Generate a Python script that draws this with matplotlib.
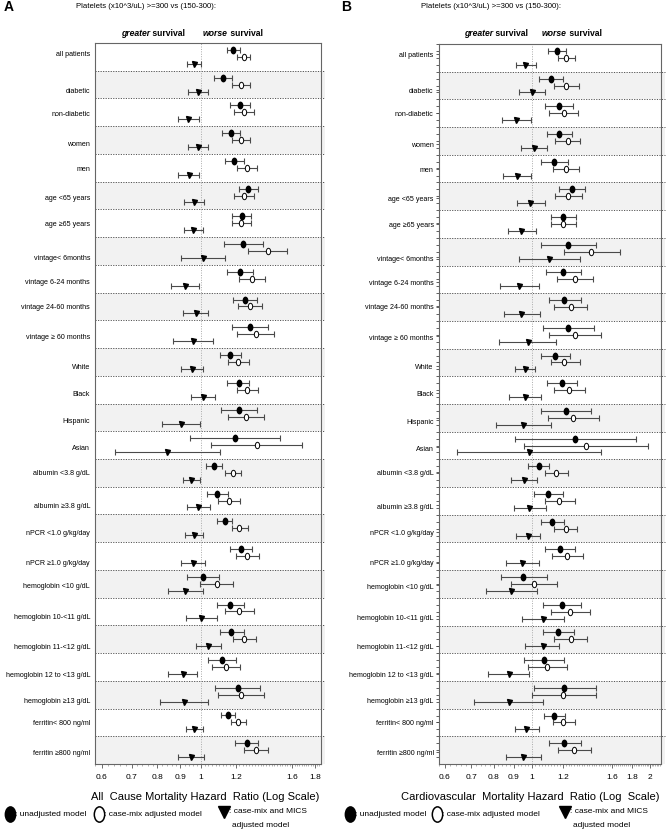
import numpy as np
import matplotlib
matplotlib.use('Agg')
import matplotlib.pyplot as plt
from matplotlib.path import Path
from matplotlib.lines import Line2D
from matplotlib.patches import Rectangle
from matplotlib.ticker import FixedLocator, NullFormatter

plt.rcParams['font.family'] = ['Liberation Sans', 'DejaVu Sans']

subgroups = ["all patients", "diabetic", "non-diabetic", "women", "men",
             "age <65 years", "age \u226565 years", "vintage< 6months",
             "vintage 6-24 months", "vintage 24-60 months", "vintage \u2265 60 months",
             "White", "Black", "Hispanic", "Asian", "albumin <3.8 g/dL",
             "albumin \u22653.8 g/dL", "nPCR <1.0 g/kg/day", "nPCR \u22651.0 g/kg/day",
             "hemoglobin <10 g/dL", "hemoglobin 10-<11 g/dL", "hemoglobin 11-<12 g/dL",
             "hemoglobin 12 to <13 g/dL", "hemoglobin \u226513 g/dL",
             "ferritin< 800 ng/ml", "ferritin \u2265800 ng/ml"]

# ---- Panel A: all-cause mortality ----
a_unadj    = [1.181, 1.122, 1.222, 1.169, 1.189, 1.276, 1.233, 1.244, 1.222, 1.252, 1.287, 1.163, 1.214,
              1.216, 1.193, 1.069, 1.086, 1.130, 1.227, 1.009, 1.163, 1.169, 1.114, 1.208, 1.151, 1.265]
a_unadj_lo = [1.145, 1.071, 1.163, 1.116, 1.133, 1.218, 1.175, 1.128, 1.145, 1.177, 1.175, 1.105, 1.147,
              1.110, 0.947, 1.026, 1.030, 1.086, 1.159, 0.929, 1.084, 1.101, 1.040, 1.075, 1.107, 1.193]
a_unadj_hi = [1.222, 1.175, 1.285, 1.224, 1.250, 1.339, 1.296, 1.374, 1.309, 1.332, 1.412, 1.229, 1.283,
              1.337, 1.502, 1.116, 1.151, 1.175, 1.303, 1.099, 1.250, 1.246, 1.200, 1.357, 1.195, 1.343]
a_cm       = [1.246, 1.229, 1.246, 1.227, 1.267, 1.248, 1.231, 1.410, 1.303, 1.285, 1.325, 1.212, 1.270,
              1.263, 1.334, 1.177, 1.157, 1.220, 1.270, 1.088, 1.220, 1.250, 1.137, 1.231, 1.212, 1.325]
a_cm_lo    = [1.206, 1.175, 1.187, 1.171, 1.206, 1.187, 1.171, 1.276, 1.218, 1.208, 1.206, 1.149, 1.202,
              1.151, 1.055, 1.130, 1.095, 1.173, 1.200, 0.998, 1.135, 1.177, 1.058, 1.093, 1.165, 1.250]
a_cm_hi    = [1.291, 1.291, 1.312, 1.291, 1.332, 1.312, 1.296, 1.560, 1.393, 1.371, 1.454, 1.280, 1.343,
              1.386, 1.685, 1.227, 1.222, 1.274, 1.348, 1.183, 1.314, 1.330, 1.222, 1.386, 1.263, 1.412]
a_mics     = [0.963, 0.986, 0.937, 0.986, 0.940, 0.965, 0.961, 1.010, 0.922, 0.975, 0.960, 0.956, 1.012,
              0.902, 0.841, 0.953, 0.985, 0.966, 0.961, 0.924, 1.002, 1.037, 0.910, 0.916, 0.966, 0.950]
a_mics_lo  = [0.929, 0.938, 0.887, 0.938, 0.891, 0.916, 0.915, 0.904, 0.857, 0.913, 0.866, 0.905, 0.953,
              0.817, 0.642, 0.911, 0.929, 0.924, 0.905, 0.845, 0.926, 0.973, 0.844, 0.811, 0.927, 0.891]
a_mics_hi  = [1.000, 1.037, 0.990, 1.040, 0.993, 1.019, 1.012, 1.132, 0.991, 1.040, 1.064, 1.012, 1.078,
              0.998, 1.101, 0.998, 1.046, 1.010, 1.024, 1.012, 1.088, 1.107, 0.981, 1.040, 1.010, 1.016]

# ---- Panel B: cardiovascular mortality ----
b_unadj    = [1.158, 1.118, 1.170, 1.176, 1.138, 1.262, 1.200, 1.238, 1.200, 1.211, 1.238, 1.147, 1.193,
              1.223, 1.287, 1.040, 1.101, 1.127, 1.179, 0.952, 1.190, 1.165, 1.071, 1.211, 1.140, 1.211]
b_unadj_lo = [1.099, 1.042, 1.079, 1.096, 1.052, 1.172, 1.116, 1.052, 1.084, 1.103, 1.067, 1.058, 1.090,
              1.056, 0.907, 0.977, 1.010, 1.056, 1.077, 0.834, 1.065, 1.065, 0.956, 1.010, 1.073, 1.103]
b_unadj_hi = [1.221, 1.202, 1.270, 1.265, 1.233, 1.362, 1.292, 1.453, 1.333, 1.333, 1.436, 1.250, 1.302,
              1.417, 1.838, 1.109, 1.202, 1.204, 1.290, 1.090, 1.333, 1.277, 1.204, 1.459, 1.214, 1.333]
b_cm       = [1.223, 1.223, 1.204, 1.233, 1.219, 1.238, 1.200, 1.417, 1.285, 1.255, 1.287, 1.211, 1.245,
              1.275, 1.373, 1.151, 1.176, 1.219, 1.231, 1.012, 1.250, 1.257, 1.092, 1.202, 1.202, 1.282]
b_cm_lo    = [1.165, 1.140, 1.109, 1.147, 1.129, 1.147, 1.116, 1.204, 1.156, 1.140, 1.109, 1.116, 1.136,
              1.099, 0.956, 1.077, 1.077, 1.142, 1.125, 0.884, 1.116, 1.142, 0.975, 1.000, 1.129, 1.165]
b_cm_hi    = [1.290, 1.315, 1.308, 1.328, 1.318, 1.339, 1.292, 1.673, 1.431, 1.381, 1.497, 1.323, 1.362,
              1.479, 1.980, 1.233, 1.285, 1.302, 1.352, 1.160, 1.403, 1.384, 1.226, 1.453, 1.285, 1.411]
b_mics     = [0.963, 1.002, 0.912, 1.010, 0.916, 0.992, 0.941, 1.109, 0.928, 0.941, 0.975, 0.958, 0.962,
              0.950, 0.984, 0.956, 0.986, 0.979, 0.943, 0.886, 1.069, 1.065, 0.872, 0.872, 0.969, 0.950]
b_mics_lo  = [0.909, 0.927, 0.837, 0.936, 0.842, 0.914, 0.870, 0.925, 0.829, 0.850, 0.827, 0.905, 0.877,
              0.809, 0.646, 0.887, 0.900, 0.910, 0.857, 0.766, 0.943, 0.963, 0.771, 0.713, 0.905, 0.857]
b_mics_hi  = [1.024, 1.081, 0.994, 1.092, 0.994, 1.077, 1.022, 1.326, 1.042, 1.046, 1.149, 1.016, 1.052,
              1.116, 1.500, 1.028, 1.084, 1.050, 1.040, 1.028, 1.211, 1.176, 0.986, 1.065, 1.040, 1.058]

a_ticks = [0.6, 0.7, 0.8, 0.9, 1.0, 1.2, 1.6, 1.8]
a_ticklabels = ["0.6", "0.7", "0.8", "0.9", "1", "1.2", "1.6", "1.8"]
b_ticks = [0.6, 0.7, 0.8, 0.9, 1.0, 1.2, 1.6, 1.8, 2.0]
b_ticklabels = ["0.6", "0.7", "0.8", "0.9", "1", "1.2", "1.6", "1.8", "2"]

title_text = "Platelets (x10^3/uL) >=300 vs (150-300):"

# ---------------- layout helpers ----------------
label_frac = [0.36, 0.66, 0.49, 0.60, 0.48, 0.55, 0.48, 0.70, 0.58, 0.45, 0.55, 0.62, 0.59,
              0.58, 0.56, 0.45, 0.65, 0.61, 0.70, 0.54, 0.66, 0.73, 0.73, 0.67, 0.47, 0.56]

_circ = Path.unit_circle()
ellipse = Path(_circ.vertices * np.array([0.68, 1.0]), _circ.codes)

W, H = 669, 837
fig = plt.figure(figsize=(W / 100, H / 100), dpi=100)
renderer = fig.canvas.get_renderer()


def px_rect(l, t, r, b):
    return [l / W, 1 - b / H, (r - l) / W, (b - t) / H]


def fx(x):
    return x / W


def fy(y):
    return 1 - y / H


def draw_panel(ax, unadj, ulo, uhi, cm, clo, chi, mics, mlo, mhi, xlim, ticks, ticklabels,
               overhang, yticks_marks):
    n = len(subgroups)
    idx = np.arange(n)
    ax.set_xscale('log')
    ax.set_xlim(*xlim)
    ax.set_ylim(n, 0)
    for i in range(n):
        if i % 2 == 1:
            ax.add_patch(Rectangle((0, i), 1 + overhang, 1, transform=ax.get_yaxis_transform(),
                                   facecolor='#f2f2f2', edgecolor='none', zorder=0, clip_on=False))
    for i in range(1, n):
        ax.plot([0, 1 + overhang], [i, i], transform=ax.get_yaxis_transform(), color='#555555',
                lw=0.7, ls=(0, (1.2, 1.4)), clip_on=False, zorder=1)
    ax.axvline(1.0, color='#aaaaaa', lw=0.7, ls=(0, (1, 1.5)), zorder=1)

    series = [(unadj, ulo, uhi, 0.25, dict(marker=ellipse, mfc='black', mec='black', ms=4.6)),
              (cm, clo, chi, 0.5, dict(marker=ellipse, mfc='white', mec='black', ms=4.6, mew=0.7)),
              (mics, mlo, mhi, 0.75, dict(marker='v', mfc='black', mec='black', ms=3.6))]
    for vals, lo, hi, off, mk in series:
        vals = np.asarray(vals); lo = np.asarray(lo); hi = np.asarray(hi)
        y = idx + off
        ax.errorbar(vals, y, xerr=[vals - lo, hi - vals], fmt='none', ecolor='#4a4a4a',
                    elinewidth=0.8, capsize=2.2, capthick=0.8, zorder=3)
        ax.plot(vals, y, ls='none', zorder=4, **mk)

    ax.set_yticks(idx + np.array(label_frac))
    ax.set_yticklabels(subgroups, fontsize=5.1)
    if yticks_marks:
        ax.yaxis.set_minor_locator(FixedLocator(np.arange(0, n, 0.25)))
        ax.tick_params(axis='y', which='both', length=2.2, width=0.6, color='#444444', pad=1.6)
    else:
        ax.tick_params(axis='y', which='both', length=0, pad=3.6)
    ax.xaxis.set_major_locator(FixedLocator(ticks))
    ax.set_xticklabels(ticklabels, fontsize=6)
    minor = np.round(np.arange(0.58, xlim[1], 0.02), 2)
    ax.xaxis.set_minor_locator(FixedLocator(minor))
    ax.xaxis.set_minor_formatter(NullFormatter())
    ax.tick_params(axis='x', which='major', length=3, width=0.6, color='#555555', pad=3.5)
    ax.tick_params(axis='x', which='minor', length=1.3, width=0.4, color='#777777')
    for s in ax.spines.values():
        s.set_color('#666666')
        s.set_linewidth(0.8)


axA = fig.add_axes(px_rect(95, 44, 321, 765))
draw_panel(axA, a_unadj, a_unadj_lo, a_unadj_hi, a_cm, a_cm_lo, a_cm_hi, a_mics, a_mics_lo, a_mics_hi,
           (0.58, 1.856), a_ticks, a_ticklabels, 0.018, False)
axB = fig.add_axes(px_rect(439, 45, 661, 765))
draw_panel(axB, b_unadj, b_unadj_lo, b_unadj_hi, b_cm, b_cm_lo, b_cm_hi, b_mics, b_mics_lo, b_mics_hi,
           (0.58, 2.133), b_ticks, b_ticklabels, 0.02, True)

# panel letters and titles
fig.text(fx(4), fy(7), "A", fontsize=10, fontweight='bold', va='center', ha='left')
fig.text(fx(76), fy(6), title_text, fontsize=5.6, va='center', ha='left')
fig.text(fx(341), fy(7), "B", fontsize=10, fontweight='bold', va='center', ha='left')
fig.text(fx(421), fy(6), title_text, fontsize=5.6, va='center', ha='left')


def two_style(x_px, y_px, word):
    t1 = fig.text(fx(x_px), fy(y_px), word, fontsize=6.2, fontweight='bold', style='italic',
                  ha='left', va='center')
    w = t1.get_window_extent(renderer=renderer).width
    fig.text(fx(x_px + w), fy(y_px), " survival", fontsize=6.2, fontweight='bold',
             ha='left', va='center')


two_style(121, 33, "greater")
two_style(203, 33, "worse")
two_style(464, 33, "greater")
two_style(542, 33, "worse")

# x axis titles
fig.text(fx(205), fy(797), "All  Cause Mortality Hazard  Ratio (Log Scale)", fontsize=8,
         ha='center', va='center')
fig.text(fx(530), fy(797), "Cardiovascular  Mortality Hazard  Ratio (Log  Scale)", fontsize=8,
         ha='center', va='center')


def legend_row(x_f, x_o, x_t):
    yl = fy(815)
    fig.add_artist(Line2D([fx(x_f)], [yl], marker=ellipse, ms=11, mfc='black', mec='black',
                          ls='none', transform=fig.transFigure))
    fig.text(fx(x_f + 5), yl, ": unadjusted model", fontsize=6, va='center', ha='left')
    fig.add_artist(Line2D([fx(x_o)], [yl], marker=ellipse, ms=11, mfc='white', mec='black', mew=1.1,
                          ls='none', transform=fig.transFigure))
    fig.text(fx(x_o + 5), yl, ": case-mix adjusted model", fontsize=6, va='center', ha='left')
    fig.add_artist(Line2D([fx(x_t)], [fy(813)], marker='v', ms=9, mfc='black', mec='black',
                          ls='none', transform=fig.transFigure))
    fig.text(fx(x_t + 5), fy(812), ": case-mix and MICS", fontsize=6, va='center', ha='left')
    fig.text(fx(x_t + 8), fy(826), "adjusted model", fontsize=6, va='center', ha='left')


legend_row(10, 99, 224)
legend_row(350, 437, 565)

fig.savefig("out.png", dpi=100)
